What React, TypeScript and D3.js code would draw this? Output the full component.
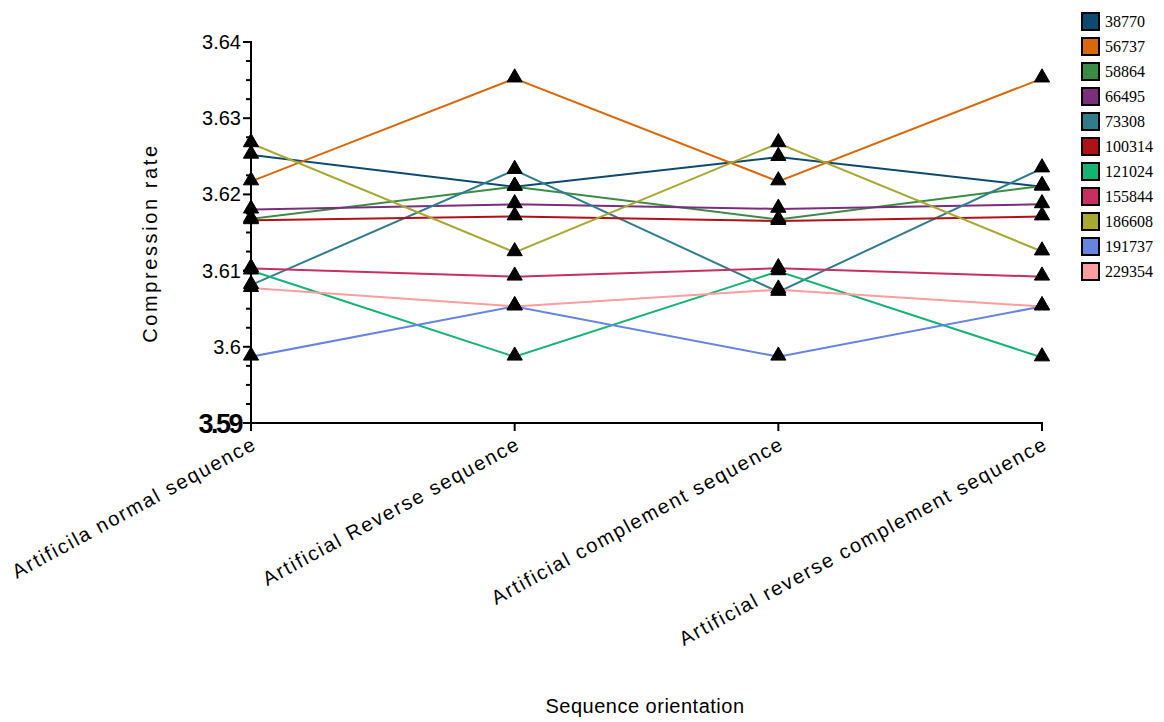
import React from "react";
import * as d3 from "d3";

const categories = [
  "Artificila normal sequence",
  "Artificial Reverse sequence",
  "Artificial complement sequence",
  "Artificial reverse complement sequence",
];

const seriesNames = [
  "38770", "56737", "58864", "66495", "73308", "100314",
  "121024", "155844", "186608", "191737", "229354",
];

const seriesColors = [
  "#0d4a70", "#d9680a", "#3a8c45", "#7a2e7b", "#2f7d8c", "#b01116",
  "#16b374", "#c72e63", "#a6a832", "#6684e0", "#ff9c9f",
];

// compression rate per series, one value per category
const v38770 = [3.6252, 3.6210, 3.6249, 3.6210];
const v56737 = [3.6217, 3.6352, 3.6217, 3.6352];
const v58864 = [3.6168, 3.6210, 3.6167, 3.6211];
const v66495 = [3.6180, 3.6187, 3.6181, 3.6187];
const v73308 = [3.6081, 3.6232, 3.6072, 3.6234];
const v100314 = [3.6166, 3.6171, 3.6165, 3.6171];
const v121024 = [3.6100, 3.5987, 3.6099, 3.5986];
const v155844 = [3.6103, 3.6092, 3.6103, 3.6092];
const v186608 = [3.6267, 3.6124, 3.6267, 3.6125];
const v191737 = [3.5987, 3.6053, 3.5987, 3.6053];
const v229354 = [3.6077, 3.6053, 3.6075, 3.6053];

const seriesValues = [
  v38770, v56737, v58864, v66495, v73308, v100314,
  v121024, v155844, v186608, v191737, v229354,
];

const yTicks = [3.59, 3.6, 3.61, 3.62, 3.63, 3.64];

export default function App() {
  const width = 1164;
  const height = 722;

  const x = d3.scalePoint<string>().domain(categories).range([251, 1042]).padding(0);
  const y = d3.scaleLinear().domain([3.59, 3.64]).range([423, 42]);

  const line = d3
    .line<number>()
    .x((_, i) => x(categories[i]) as number)
    .y((d) => y(d));

  const tri = d3.symbol().type(d3.symbolTriangle).size(100)();

  const minorTicks = d3.range(0, 21).map((i) => 3.59 + i * 0.0025);

  const font = "Liberation Sans, Arial, sans-serif";

  return (
    <svg
      width={width}
      height={height}
      style={{ position: "absolute", left: 0, top: 0, background: "#fff" }}
    >
      {/* y axis */}
      <line x1={251} x2={251} y1={y(3.64) - 1} y2={423} stroke="#000" strokeWidth={2} />
      {minorTicks.map((t, i) => (
        <line
          key={"m" + i}
          x1={251 - (i % 4 === 0 ? 8 : 5)}
          x2={251}
          y1={y(t)}
          y2={y(t)}
          stroke="#000"
          strokeWidth={2}
        />
      ))}
      {yTicks.map((t) =>
        t === 3.59 ? (
          <text
            key={t}
            x={241}
            y={y(t) + 10}
            textAnchor="end"
            fontFamily={font}
            fontSize={27}
            fontWeight="bold"
            letterSpacing={-2.5}
          >
            3.59
          </text>
        ) : (
          <text
            key={t}
            x={241}
            y={y(t) + 7}
            textAnchor="end"
            fontFamily={font}
            fontSize={20}
          >
            {d3.format("")(+t.toFixed(2))}
          </text>
        )
      )}

      {/* x axis */}
      <line x1={250} x2={1043} y1={423} y2={423} stroke="#000" strokeWidth={2} />
      {categories.map((c) => (
        <line
          key={c}
          x1={x(c)}
          x2={x(c)}
          y1={423}
          y2={431}
          stroke="#000"
          strokeWidth={2}
        />
      ))}
      {categories.map((c) => (
        <text
          key={"l" + c}
          transform={`translate(${(x(c) as number) + 7},${448}) rotate(-28.5)`}
          textAnchor="end"
          fontFamily={font}
          fontSize={20}
          letterSpacing={1.75}
        >
          {c}
        </text>
      ))}

      {/* lines */}
      {seriesValues.map((vals, si) => (
        <path
          key={"p" + si}
          d={line(vals) as string}
          fill="none"
          stroke={seriesColors[si]}
          strokeWidth={2}
        />
      ))}

      {/* markers */}
      {seriesValues.map((vals, si) =>
        vals.map((v, i) => (
          <path
            key={"s" + si + "-" + i}
            d={tri as string}
            transform={`translate(${x(categories[i])},${y(v) - 1})`}
            fill="#000"
            stroke="#000"
            strokeWidth={1}
          />
        ))
      )}

      {/* axis titles */}
      <text
        transform="translate(157,243) rotate(-90)"
        textAnchor="middle"
        fontFamily={font}
        fontSize={20}
        letterSpacing={2.6}
      >
        Compression rate
      </text>
      <text
        x={645}
        y={713}
        textAnchor="middle"
        fontFamily={font}
        fontSize={20}
        letterSpacing={0.5}
      >
        Sequence orientation
      </text>

      {/* legend */}
      {seriesNames.map((n, i) => (
        <g key={"lg" + n} transform={`translate(1082,${13 + i * 25})`}>
          <rect width={17} height={17} fill={seriesColors[i]} stroke="#000" strokeWidth={2} />
          <text x={23} y={14} fontFamily="Liberation Serif, Times New Roman, serif" fontSize={16}>
            {n}
          </text>
        </g>
      ))}
    </svg>
  );
}
